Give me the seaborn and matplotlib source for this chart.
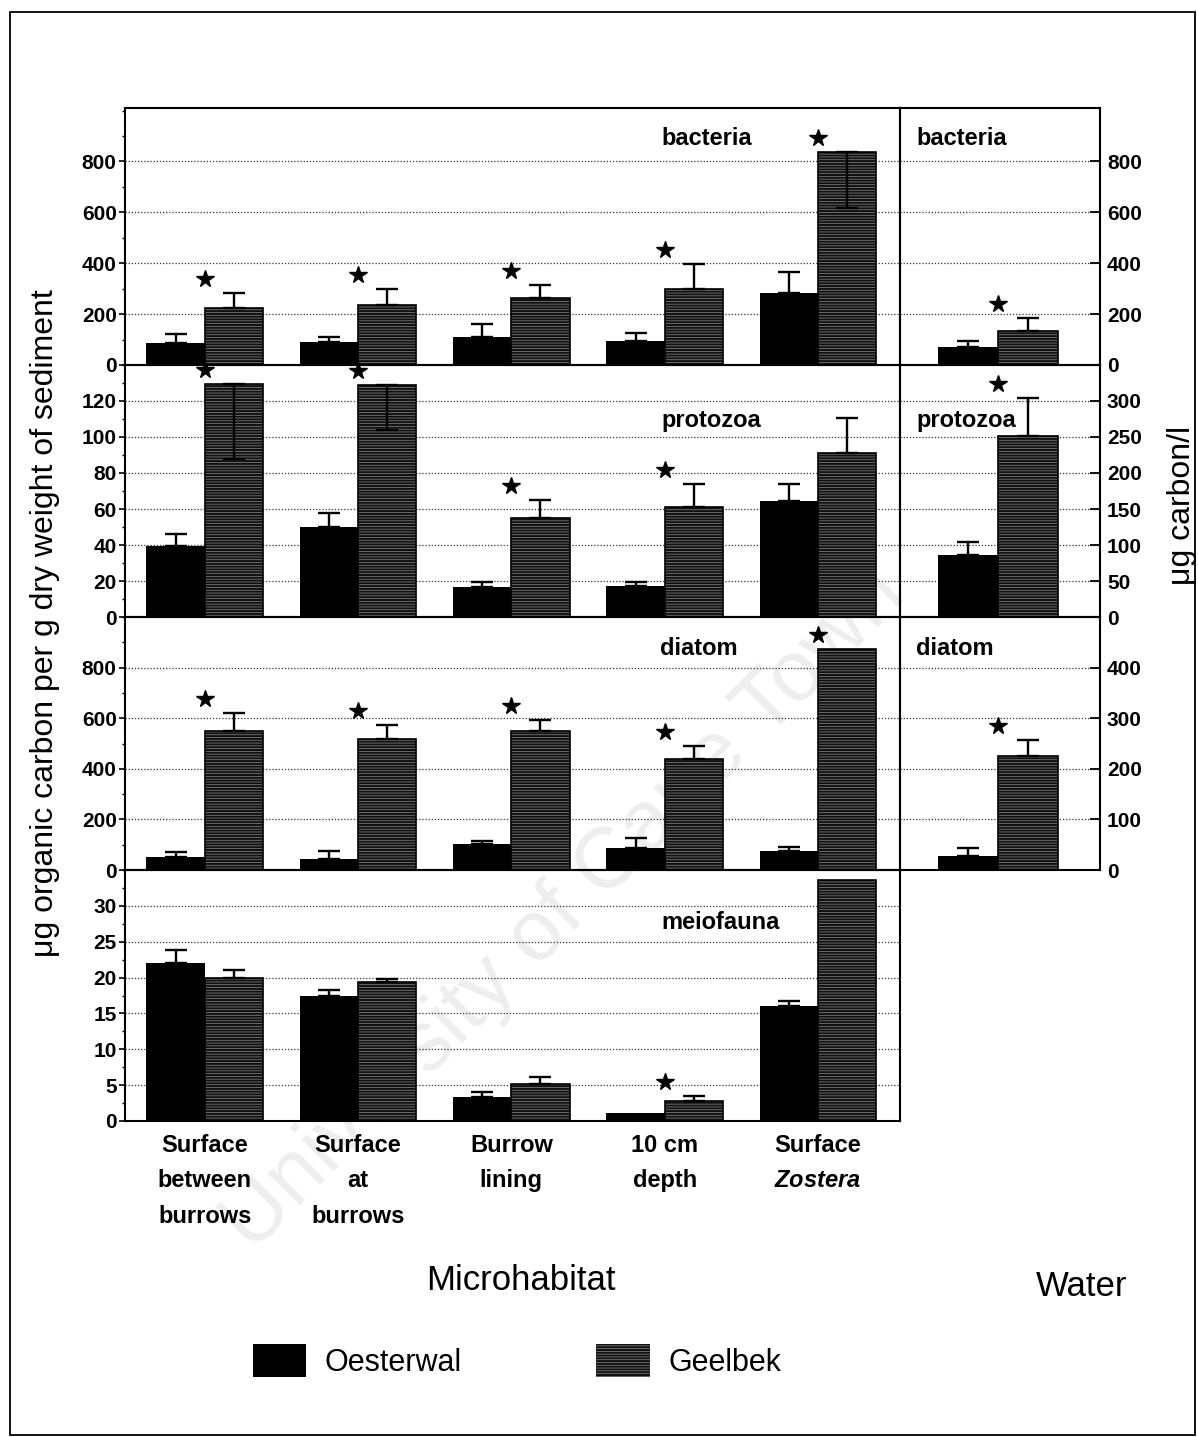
import numpy as np
import pandas as pd
import matplotlib
matplotlib.use("Agg")
import matplotlib.pyplot as plt
import matplotlib.transforms as mtransforms
from matplotlib.patches import Patch, Rectangle
from matplotlib.ticker import MultipleLocator, FixedLocator
import seaborn as sns

# ---------------- data ----------------
categories = ["Surface\nbetween\nburrows", "Surface\nat\nburrows", "Burrow\nlining",
              "10 cm\ndepth", "Surface\n$\\it{Zostera}$"]
sites = ["Oesterwal", "Geelbek"]
water_cat = ["Water"]

bacteria_oest = [85, 90, 112, 94, 283]
bacteria_oest_err = [35, 20, 48, 30, 82]
bacteria_geel = [225, 235, 264, 299, 839]
bacteria_geel_err = [58, 64, 50, 96, -222]      # negative = drawn downward
bacteria_sig = [True, True, True, True, True]

protozoa_oest = [39.6, 49.8, 16.7, 17.1, 64.5]
protozoa_oest_err = [6.4, 8.0, 3.0, 2.6, 9.4]
protozoa_geel = [129.6, 129.0, 54.8, 60.9, 91.0]
protozoa_geel_err = [-41.8, -25.0, 10.2, 13.0, 19.5]
protozoa_sig = [True, True, True, True, False]

diatom_oest = [53, 44, 102, 86, 76]
diatom_oest_err = [20, 32, 13, 40, 13]
diatom_geel = [548, 518, 551, 438, 872]
diatom_geel_err = [72, 57, 40, 53, 0]
diatom_sig = [True, True, True, True, True]

meio_oest = [22.0, 17.5, 3.4, 1.07, 16.1]
meio_oest_err = [1.9, 0.7, 0.7, 0, 0.6]
meio_geel = [20.0, 19.35, 5.2, 2.8, 33.6]
meio_geel_err = [1.0, 0.45, 0.9, 0.7, 0]
meio_sig = [False, False, False, True, False]

water_bacteria = [72, 133]
water_bacteria_err = [22, 50]
water_protozoa = [85.7, 251]
water_protozoa_err = [18, 53]
water_diatom = [28, 225]
water_diatom_err = [15, 32]
water_sig = [True]

# tick label ranges (last labelled value)
bacteria_ticks_max = 800
protozoa_ticks_max = 120
diatom_ticks_max = 800
meio_ticks_max = 30
water_bacteria_ticks_max = 800
water_protozoa_ticks_max = 300
water_diatom_ticks_max = 400

# ---------------- style ----------------
sns.set_theme(style="ticks")
plt.rcParams["font.family"] = ["Liberation Sans", "DejaVu Sans"]
plt.rcParams["mathtext.fontset"] = "custom"
plt.rcParams["mathtext.it"] = "Liberation Sans:italic:bold"
plt.rcParams["mathtext.rm"] = "Liberation Sans:bold"
plt.rcParams["hatch.linewidth"] = 0.55
for k in ("text.color", "axes.labelcolor", "xtick.color", "ytick.color", "axes.edgecolor"):
    plt.rcParams[k] = "black"

OEST_FC = "black"
GEEL_FC = "#111111"
GEEL_HATCH = "#808080"
GEEL_PATTERN = "------"

W, H = 1198, 1437
fig = plt.figure(figsize=(W / 100, H / 100), dpi=100)


def fx(px):
    return px / W


def fy(py):
    return 1 - py / H


def make_ax(x0, x1, top, bottom):
    ax = fig.add_axes([fx(x0), fy(bottom), (x1 - x0) / W, (bottom - top) / H])
    ax.set_facecolor("none")
    return ax


def draw_bars(ax, cats, oest, geel, oest_err, geel_err, sig, width):
    n = len(cats)
    df = pd.DataFrame({
        "cat": list(cats) * 2,
        "site": [sites[0]] * n + [sites[1]] * n,
        "value": list(oest) + list(geel),
    })
    sns.barplot(data=df, x="cat", y="value", hue="site", order=cats, hue_order=sites,
                palette={sites[0]: OEST_FC, sites[1]: GEEL_FC}, width=width,
                errorbar=None, saturation=1, legend=False, ax=ax, zorder=2)
    c_oest, c_geel = ax.containers[0], ax.containers[1]
    for b in c_oest:
        b.set_facecolor(OEST_FC)
        b.set_edgecolor(OEST_FC)
        b.set_linewidth(0)
    for b in c_geel:
        b.set_facecolor(GEEL_FC)
        b.set_edgecolor(GEEL_HATCH)
        b.set_hatch(GEEL_PATTERN)
        b.set_linewidth(0)
        ax.add_patch(Rectangle(b.get_xy(), b.get_width(), b.get_height(), fill=False,
                               edgecolor="black", linewidth=1.2, zorder=2.5))
    for cont, errs in ((c_oest, oest_err), (c_geel, geel_err)):
        for b, e in zip(cont, errs):
            xc = b.get_x() + b.get_width() / 2
            h = b.get_height()
            if e > 0:
                ax.errorbar([xc], [h], yerr=[[0], [e]], fmt="none", ecolor="black",
                            elinewidth=1.7, capsize=8, capthick=1.7, zorder=3)
            elif e < 0:
                ax.errorbar([xc], [h], yerr=[[-e], [0]], fmt="none", ecolor="black",
                            elinewidth=1.7, capsize=8, capthick=1.7, zorder=3)
    star_tr = mtransforms.offset_copy(ax.transData, fig=fig, y=14, units="dots")
    for i, s in enumerate(sig):
        if not s:
            continue
        bo, bg = c_oest[i], c_geel[i]
        xc = (bo.get_x() + bo.get_width() + bg.get_x()) / 2
        top = max(bo.get_height() + max(oest_err[i], 0), bg.get_height() + max(geel_err[i], 0))
        ax.plot([xc], [top], marker="*", ms=13, color="black", mec="black",
                transform=star_tr, clip_on=False, zorder=4, ls="none")


def common_style(ax):
    ax.yaxis.grid(True, which="major", linestyle=(0, (1, 1.5)), color="#333333", linewidth=0.9)
    ax.set_axisbelow(True)
    ax.tick_params(axis="x", length=0, labelbottom=False)
    ax.set_xlabel("")
    ax.set_ylabel("")
    for sp in ax.spines.values():
        sp.set_visible(True)
        sp.set_linewidth(1.5)
        sp.set_color("black")


def style_left(ax, ylim, major, minor, tmax, label, lx, ly):
    ax.set_ylim(*ylim)
    ax.set_xlim(-0.52, 4.535)
    ax.yaxis.set_major_locator(FixedLocator(np.arange(0, tmax + major / 2, major)))
    ax.yaxis.set_minor_locator(MultipleLocator(minor))
    common_style(ax)
    ax.tick_params(axis="y", which="major", direction="out", length=4, width=1.2,
                   labelsize=15, pad=2, left=True, right=False)
    ax.tick_params(axis="y", which="minor", direction="out", length=2.5, width=1.0,
                   left=True, right=False)
    for lab in ax.get_yticklabels():
        lab.set_fontweight("bold")
    ax.text(lx, ly, label, transform=ax.transAxes, ha="center", va="center",
            fontsize=17, fontweight="bold")


def style_right(ax, ylim, major, tmax, label, ly):
    ax.set_ylim(*ylim)
    ax.set_xlim(-0.64, 0.665)
    ax.yaxis.set_major_locator(FixedLocator(np.arange(0, tmax + major / 2, major)))
    common_style(ax)
    ax.yaxis.tick_right()
    ax.tick_params(axis="y", which="major", direction="in", length=7, width=1.3,
                   labelsize=15, pad=5, left=False, right=True,
                   labelleft=False, labelright=True)
    for lab in ax.get_yticklabels():
        lab.set_fontweight("bold")
    ax.text(0.08, ly, label, transform=ax.transAxes, ha="left", va="center",
            fontsize=17, fontweight="bold")


# ---------------- rows ----------------
rows = [(108, 365), (365, 617), (617, 870), (870, 1121)]

ax_b = make_ax(125, 900, *rows[0])
draw_bars(ax_b, categories, bacteria_oest, bacteria_geel, bacteria_oest_err, bacteria_geel_err,
          bacteria_sig, 0.76)
style_left(ax_b, (0, 1010), 200, 100, bacteria_ticks_max, "bacteria", 0.751, 0.883)

ax_p = make_ax(125, 900, *rows[1])
draw_bars(ax_p, categories, protozoa_oest, protozoa_geel, protozoa_oest_err, protozoa_geel_err,
          protozoa_sig, 0.76)
style_left(ax_p, (0, 140), 20, 10, protozoa_ticks_max, "protozoa", 0.757, 0.78)

ax_d = make_ax(125, 900, *rows[2])
draw_bars(ax_d, categories, diatom_oest, diatom_geel, diatom_oest_err, diatom_geel_err,
          diatom_sig, 0.76)
style_left(ax_d, (0, 1000), 200, 100, diatom_ticks_max, "diatom", 0.74, 0.877)

ax_m = make_ax(125, 900, *rows[3])
draw_bars(ax_m, categories, meio_oest, meio_geel, meio_oest_err, meio_geel_err,
          meio_sig, 0.76)
style_left(ax_m, (0, 35), 5, 2.5, meio_ticks_max, "meiofauna", 0.768, 0.79)
ax_m.tick_params(axis="x", length=0, labelbottom=True, labelsize=17, pad=9)
for lab in ax_m.get_xticklabels():
    lab.set_fontweight("bold")
    lab.set_linespacing(1.7)
    lab.set_verticalalignment("top")

# water panels
ax_wb = make_ax(900, 1100, *rows[0])
draw_bars(ax_wb, water_cat, water_bacteria[:1], water_bacteria[1:], water_bacteria_err[:1],
          water_bacteria_err[1:], water_sig, 0.78)
style_right(ax_wb, (0, 1010), 200, water_bacteria_ticks_max, "bacteria", 0.883)

ax_wp = make_ax(900, 1100, *rows[1])
draw_bars(ax_wp, water_cat, water_protozoa[:1], water_protozoa[1:], water_protozoa_err[:1],
          water_protozoa_err[1:], water_sig, 0.78)
style_right(ax_wp, (0, 350), 50, water_protozoa_ticks_max, "protozoa", 0.78)

ax_wd = make_ax(900, 1100, *rows[2])
draw_bars(ax_wd, water_cat, water_diatom[:1], water_diatom[1:], water_diatom_err[:1],
          water_diatom_err[1:], water_sig, 0.78)
style_right(ax_wd, (0, 500), 100, water_diatom_ticks_max, "diatom", 0.877)

# ---------------- labels ----------------
fig.text(fx(45), fy(623), "\u03bcg organic carbon per g dry weight of sediment",
         rotation=90, ha="center", va="center", fontsize=23)
fig.text(fx(1182), fy(505), "\u03bcg carbon/l", rotation=90, ha="center", va="center",
         fontsize=23)
fig.text(fx(521), fy(1280), "Microhabitat", ha="center", va="center", fontsize=25)
fig.text(fx(1082), fy(1287), "Water", ha="center", va="center", fontsize=25)

handles = [Patch(facecolor=OEST_FC, edgecolor=OEST_FC, linewidth=0),
           Patch(facecolor=GEEL_FC, edgecolor=GEEL_HATCH, hatch=GEEL_PATTERN, linewidth=0)]
fig.legend(handles=handles, labels=sites, loc="center", bbox_to_anchor=(fx(517), fy(1361)),
           ncol=2, frameon=False, prop={"size": 22, "weight": "normal"},
           handlelength=1.75, handleheight=1.25, handletextpad=0.6, columnspacing=4.4)

# watermark and outer frame
fig.text(fx(565), fy(910), "University of Cape Town", rotation=45, ha="center", va="center",
         fontsize=62, color="#eeeeee", zorder=-1)
fig.add_artist(Rectangle((fx(10), fy(1435)), (1195 - 10) / W, (1435 - 12) / H,
                         transform=fig.transFigure, fill=False, edgecolor="black",
                         linewidth=1.3))

fig.savefig("out.png", dpi=100, facecolor="white")
